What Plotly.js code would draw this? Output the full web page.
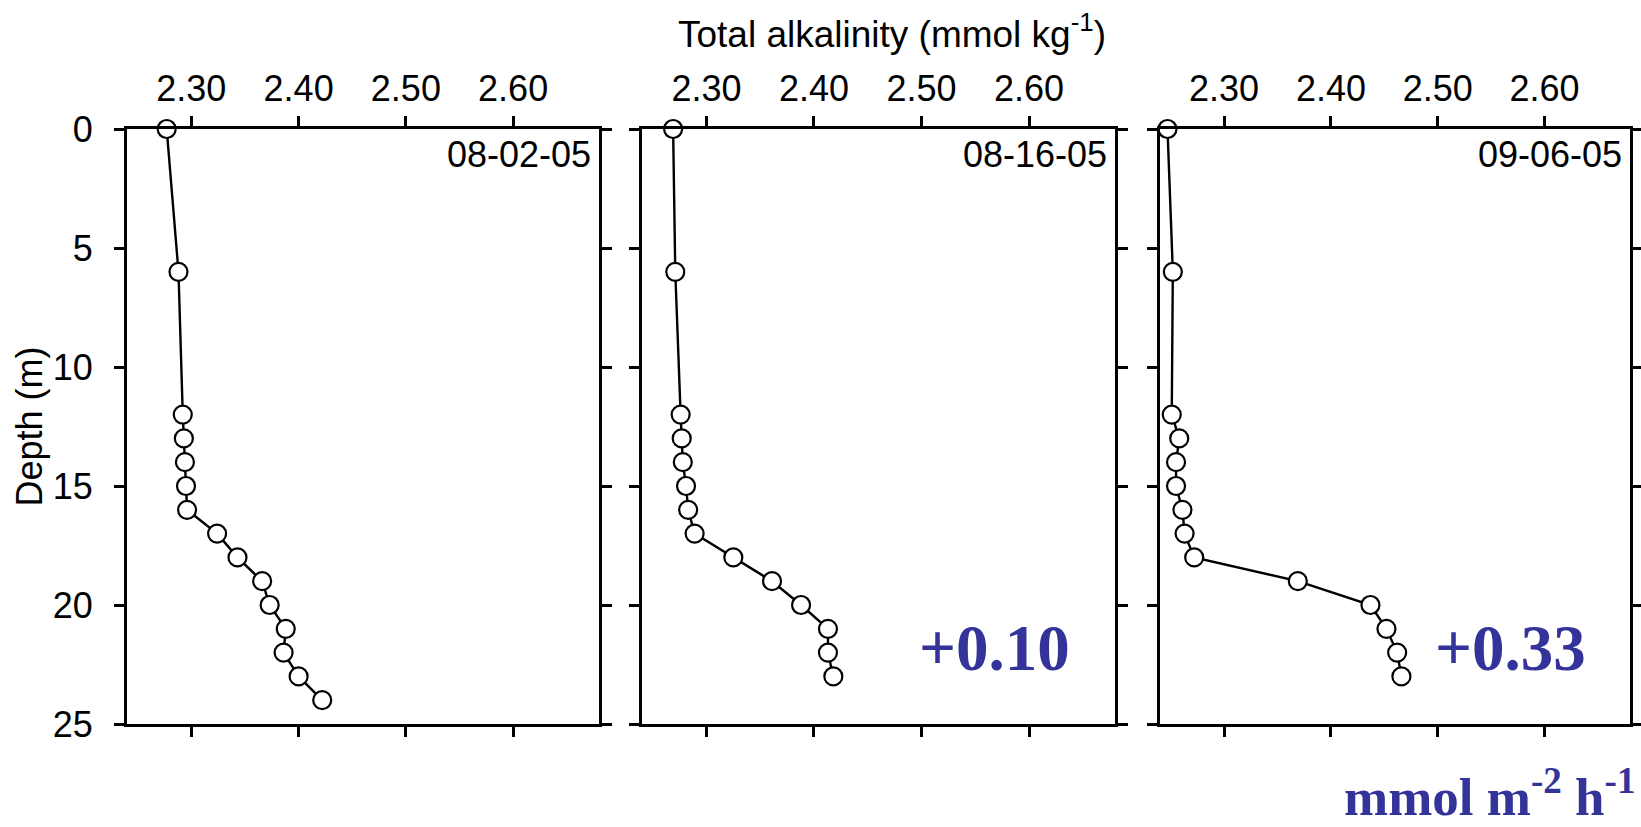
<!DOCTYPE html>
<html>
<head>
<meta charset="utf-8">
<script src="https://cdn.plot.ly/plotly-3.0.1.min.js"></script>
<style>html,body{margin:0;padding:0;background:#fff;}#chart{width:1641px;height:827px;}</style>
</head>
<body>
<div id="chart"></div>
<script>
// ---- data ----
const dates = ['08-02-05', '08-16-05', '09-06-05'];
const fluxLabels = ['', '+0.10', '+0.33'];

const depth1 = [0, 6, 12, 13, 14, 15, 16, 17, 18, 19, 20, 21, 22, 23, 24];
const alk1   = [2.277, 2.288, 2.292, 2.293, 2.294, 2.295, 2.296, 2.324, 2.343, 2.366, 2.373, 2.388, 2.386, 2.400, 2.422];

const depth2 = [0, 6, 12, 13, 14, 15, 16, 17, 18, 19, 20, 21, 22, 23];
const alk2   = [2.269, 2.271, 2.276, 2.277, 2.278, 2.281, 2.283, 2.289, 2.325, 2.361, 2.388, 2.413, 2.413, 2.418];

const depth3 = [0, 6, 12, 13, 14, 15, 16, 17, 18, 19, 20, 21, 22, 23];
const alk3   = [2.247, 2.252, 2.251, 2.258, 2.255, 2.255, 2.261, 2.263, 2.272, 2.369, 2.437, 2.452, 2.462, 2.466];

const xTitle = 'Total alkalinity (mmol kg<sup>-1</sup>)';
const yTitle = 'Depth (m)';
const unitLabel = 'mmol m<sup>-2</sup> h<sup>-1</sup>';

// ---- styling ----
const SANS = 'Liberation Sans, Arial, sans-serif';
const SERIF = 'Liberation Serif, Times New Roman, serif';
const BLUE = '#333399';

function series(x, y, xa, ya) {
  return {
    type: 'scatter', mode: 'lines+markers', x: x, y: y, xaxis: xa, yaxis: ya,
    line: {color: '#000', width: 2.4},
    marker: {symbol: 'circle', size: 18, color: '#fff', line: {color: '#000', width: 2.2}},
    cliponaxis: false, hoverinfo: 'x+y'
  };
}

const traces = [
  series(alk1, depth1, 'x', 'y'),
  series(alk2, depth2, 'x2', 'y2'),
  series(alk3, depth3, 'x3', 'y3')
];

function xax(domain, anchor) {
  return {
    domain: domain, anchor: anchor, range: [2.24, 2.68], side: 'top',
    tick0: 2.3, dtick: 0.1, tickformat: '.2f',
    ticks: 'outside', ticklen: 10, tickwidth: 3, tickcolor: '#000',
    showline: true, linewidth: 3, linecolor: '#000', mirror: 'ticks',
    showgrid: false, zeroline: false, fixedrange: true,
    tickfont: {family: SANS, size: 36, color: '#000'}, ticklabelstandoff: 1
  };
}
function yax(anchor, showLabels, title) {
  const a = {
    domain: [0, 1], anchor: anchor, range: [25, 0], tick0: 0, dtick: 5,
    ticks: 'outside', ticklen: 10, tickwidth: 3, tickcolor: '#000',
    showline: true, linewidth: 3, linecolor: '#000', mirror: 'ticks',
    showgrid: false, zeroline: false, fixedrange: true, showticklabels: showLabels,
    tickfont: {family: SANS, size: 36, color: '#000'}, ticklabelstandoff: 14
  };
  if (title) a.title = {text: title, font: {family: SANS, size: 36, color: '#000'}, standoff: 0};
  return a;
}

const annotations = [];
const xrefs = ['x domain', 'x2 domain', 'x3 domain'];
const yrefs = ['y domain', 'y2 domain', 'y3 domain'];
dates.forEach((d, i) => {
  annotations.push({
    text: d, xref: xrefs[i], yref: yrefs[i], x: 1, y: 0.957, xanchor: 'right', yanchor: 'middle',
    xshift: -6, showarrow: false, font: {family: SANS, size: 36, color: '#000'}
  });
});
fluxLabels.forEach((t, i) => {
  if (!t) return;
  annotations.push({
    text: t, xref: xrefs[i], yref: yrefs[i], x: 0.745, y: 0.128, xanchor: 'center', yanchor: 'middle',
    showarrow: false, font: {family: SERIF, size: 65, color: BLUE, weight: 'bold'}
  });
});
annotations.push({
  text: unitLabel, xref: 'paper', yref: 'paper', x: 1.004, y: -0.1731, xanchor: 'right', yanchor: 'bottom',
  borderpad: 0, showarrow: false, font: {family: SERIF, size: 53, color: BLUE, weight: 'bold'}
});

const layout = {
  width: 1641, height: 827,
  margin: {l: 127, r: 11, t: 129, b: 103, pad: 0},
  paper_bgcolor: '#fff', plot_bgcolor: '#fff', showlegend: false,
  font: {family: SANS, color: '#000'},
  title: {text: xTitle, xref: 'container', yref: 'container', x: 892 / 1641, y: 1 - 34 / 827,
          xanchor: 'center', yanchor: 'middle', font: {family: SANS, size: 37, color: '#000'}},
  xaxis: xax([0, 0.3140], 'y'),
  xaxis2: xax([0.3426, 0.6574], 'y2'),
  xaxis3: xax([0.6873, 1], 'y3'),
  yaxis: yax('x', true, yTitle),
  yaxis2: yax('x2', false),
  yaxis3: yax('x3', false),
  annotations: annotations
};

Plotly.newPlot('chart', traces, layout, {displayModeBar: false, staticPlot: true});
</script>
</body>
</html>
